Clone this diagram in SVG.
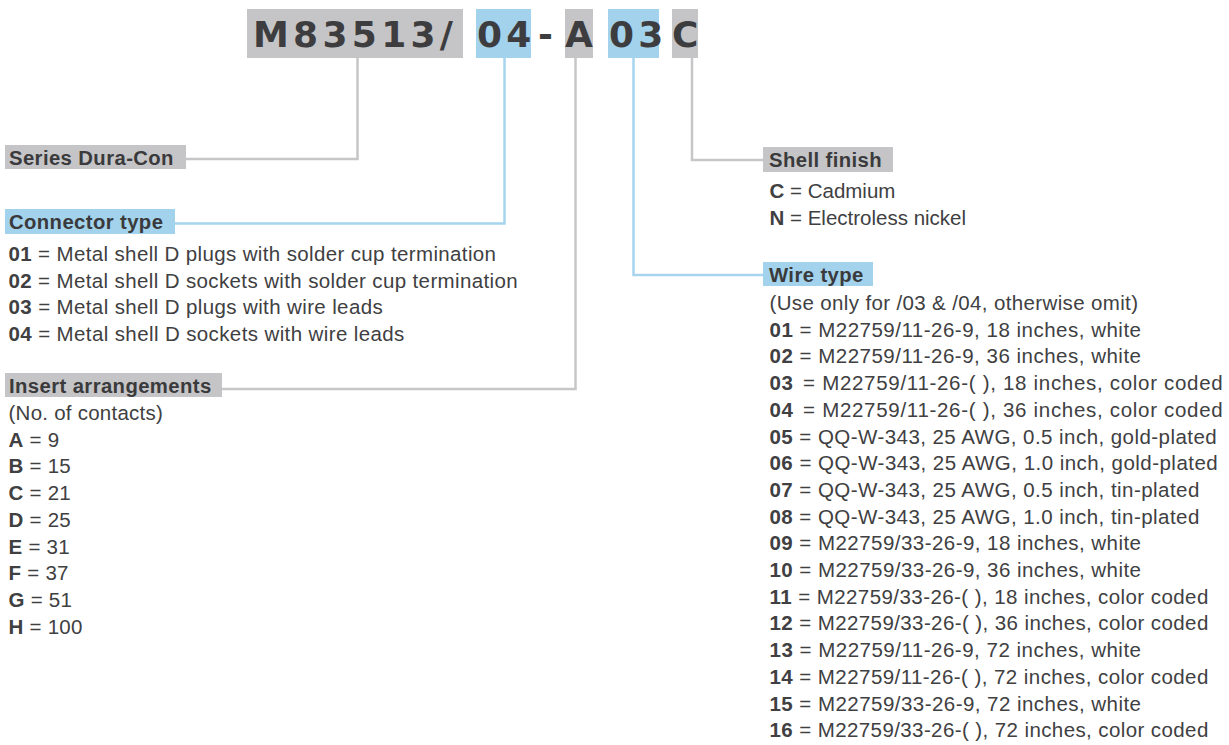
<svg xmlns="http://www.w3.org/2000/svg" width="1229" height="745" viewBox="0 0 1229 745">
<style>
.bg{fill:#ffffff}
.g{fill:#c5c5c7}
.b{fill:#a3d2ec}
.code{font-family:"DejaVu Sans",sans-serif;font-weight:bold;font-size:36px;fill:#3d3d40;letter-spacing:4.3px}
.h{font-family:Arial,"Liberation Sans",Helvetica,sans-serif;font-weight:bold;font-size:20.3px;fill:#3a3a3c;letter-spacing:0.4px}
.t{font-family:Arial,"Liberation Sans",Helvetica,sans-serif;font-size:20.5px;fill:#404042}
.ls{letter-spacing:0.25px}
.t tspan.k{font-weight:bold}
.lg{fill:none;stroke:#c6c6c8;stroke-width:2.5}
.lb{fill:none;stroke:#a6d3ee;stroke-width:2.5}
</style>
<rect class="bg" x="0" y="0" width="1229" height="745"/>
<g id="code">
<rect class="g" x="247" y="9" width="216" height="49"/>
<rect class="b" x="476" y="9" width="55" height="49"/>
<rect class="g" x="565" y="9" width="28" height="49"/>
<rect class="b" x="608" y="9" width="51" height="49"/>
<rect class="g" x="672" y="9" width="26" height="49"/>
<text class="code" x="253" y="47">M83513/</text>
<text class="code" x="477" y="47">04</text>
<text class="code" x="538" y="47">-</text>
<text class="code" x="565" y="47">A</text>
<text class="code" x="609" y="47">03</text>
<text class="code" x="672" y="47">C</text>
</g>
<g id="connectors">
<polyline class="lg" points="357.5,57 357.5,159 186,159"/>
<polyline class="lb" points="504.5,57 504.5,223.5 175,223.5"/>
<polyline class="lg" points="575.5,57 575.5,389 222,389"/>
<polyline class="lb" points="633.5,57 633.5,275 763,275"/>
<polyline class="lg" points="692,57 692,160 763,160"/>
</g>
<g id="series">
<rect class="g" x="5" y="145" width="181" height="24"/>
<text class="h" x="9" y="165">Series Dura-Con</text>
</g>
<g id="connector-type">
<rect class="b" x="5" y="209" width="170" height="25"/>
<text class="h" x="9" y="229">Connector type</text>
<text class="t" x="8.5" y="261" textLength="487.5" lengthAdjust="spacing"><tspan class="k">01</tspan> = Metal shell D plugs with solder cup termination</text>
<text class="t" x="8.5" y="287.7" textLength="509.2" lengthAdjust="spacing"><tspan class="k">02</tspan> = Metal shell D sockets with solder cup termination</text>
<text class="t" x="8.5" y="314.4" textLength="374.2" lengthAdjust="spacing"><tspan class="k">03</tspan> = Metal shell D plugs with wire leads</text>
<text class="t" x="8.5" y="341.1" textLength="395.8" lengthAdjust="spacing"><tspan class="k">04</tspan> = Metal shell D sockets with wire leads</text>
</g>
<g id="insert">
<rect class="g" x="5" y="373" width="217" height="24"/>
<text class="h" x="9" y="393">Insert arrangements</text>
<text class="t ls" x="8.5" y="420">(No. of contacts)</text>
<text class="t ls" x="8.5" y="446.7"><tspan class="k">A</tspan> = 9</text>
<text class="t ls" x="8.5" y="473.4"><tspan class="k">B</tspan> = 15</text>
<text class="t ls" x="8.5" y="500.1"><tspan class="k">C</tspan> = 21</text>
<text class="t ls" x="8.5" y="526.8"><tspan class="k">D</tspan> = 25</text>
<text class="t ls" x="8.5" y="553.5"><tspan class="k">E</tspan> = 31</text>
<text class="t ls" x="8.5" y="580.2"><tspan class="k">F</tspan> = 37</text>
<text class="t ls" x="8.5" y="606.9"><tspan class="k">G</tspan> = 51</text>
<text class="t ls" x="8.5" y="633.6"><tspan class="k">H</tspan> = 100</text>
</g>
<g id="shell-finish">
<rect class="g" x="763" y="147" width="130" height="25"/>
<text class="h" x="769" y="167">Shell finish</text>
<text class="t" x="769.5" y="198"><tspan class="k">C</tspan> = Cadmium</text>
<text class="t" x="769.5" y="224.7"><tspan class="k">N</tspan> = Electroless nickel</text>
</g>
<g id="wire-type">
<rect class="b" x="763" y="262" width="110" height="24"/>
<text class="h" x="769" y="282">Wire type</text>
<text class="t" x="769.5" y="310" textLength="368.5" lengthAdjust="spacing">(Use only for /03 &amp; /04, otherwise omit)</text>
<text class="t" x="769.5" y="336.7" textLength="371.5" lengthAdjust="spacing"><tspan class="k">01</tspan> = M22759/11-26-9, 18 inches, white</text>
<text class="t" x="769.5" y="363.4" textLength="371.5" lengthAdjust="spacing"><tspan class="k">02</tspan> = M22759/11-26-9, 36 inches, white</text>
<text class="t" x="769.5" y="390.1" textLength="453.2" lengthAdjust="spacing"><tspan class="k">03</tspan><tspan dx="3"> = </tspan>M22759/11-26-( ), 18 inches, color coded</text>
<text class="t" x="769.5" y="416.8" textLength="453.2" lengthAdjust="spacing"><tspan class="k">04</tspan><tspan dx="3"> = </tspan>M22759/11-26-( ), 36 inches, color coded</text>
<text class="t" x="769.5" y="443.5" textLength="447.2" lengthAdjust="spacing"><tspan class="k">05</tspan> = QQ-W-343, 25 AWG, 0.5 inch, gold-plated</text>
<text class="t" x="769.5" y="470.2" textLength="448.2" lengthAdjust="spacing"><tspan class="k">06</tspan> = QQ-W-343, 25 AWG, 1.0 inch, gold-plated</text>
<text class="t" x="769.5" y="496.9" textLength="429.8" lengthAdjust="spacing"><tspan class="k">07</tspan> = QQ-W-343, 25 AWG, 0.5 inch, tin-plated</text>
<text class="t" x="769.5" y="523.6" textLength="429.8" lengthAdjust="spacing"><tspan class="k">08</tspan> = QQ-W-343, 25 AWG, 1.0 inch, tin-plated</text>
<text class="t" x="769.5" y="550.3" textLength="371.5" lengthAdjust="spacing"><tspan class="k">09</tspan> = M22759/33-26-9, 18 inches, white</text>
<text class="t" x="769.5" y="577" textLength="371.5" lengthAdjust="spacing"><tspan class="k">10</tspan> = M22759/33-26-9, 36 inches, white</text>
<text class="t" x="769.5" y="603.7" textLength="438.8" lengthAdjust="spacing"><tspan class="k">11</tspan> = M22759/33-26-( ), 18 inches, color coded</text>
<text class="t" x="769.5" y="630.4" textLength="438.8" lengthAdjust="spacing"><tspan class="k">12</tspan> = M22759/33-26-( ), 36 inches, color coded</text>
<text class="t" x="769.5" y="657.1" textLength="371.5" lengthAdjust="spacing"><tspan class="k">13</tspan> = M22759/11-26-9, 72 inches, white</text>
<text class="t" x="769.5" y="683.8" textLength="438.8" lengthAdjust="spacing"><tspan class="k">14</tspan> = M22759/11-26-( ), 72 inches, color coded</text>
<text class="t" x="769.5" y="710.5" textLength="371.5" lengthAdjust="spacing"><tspan class="k">15</tspan> = M22759/33-26-9, 72 inches, white</text>
<text class="t" x="769.5" y="737.2" textLength="438.8" lengthAdjust="spacing"><tspan class="k">16</tspan> = M22759/33-26-( ), 72 inches, color coded</text>
</g>
</svg>
